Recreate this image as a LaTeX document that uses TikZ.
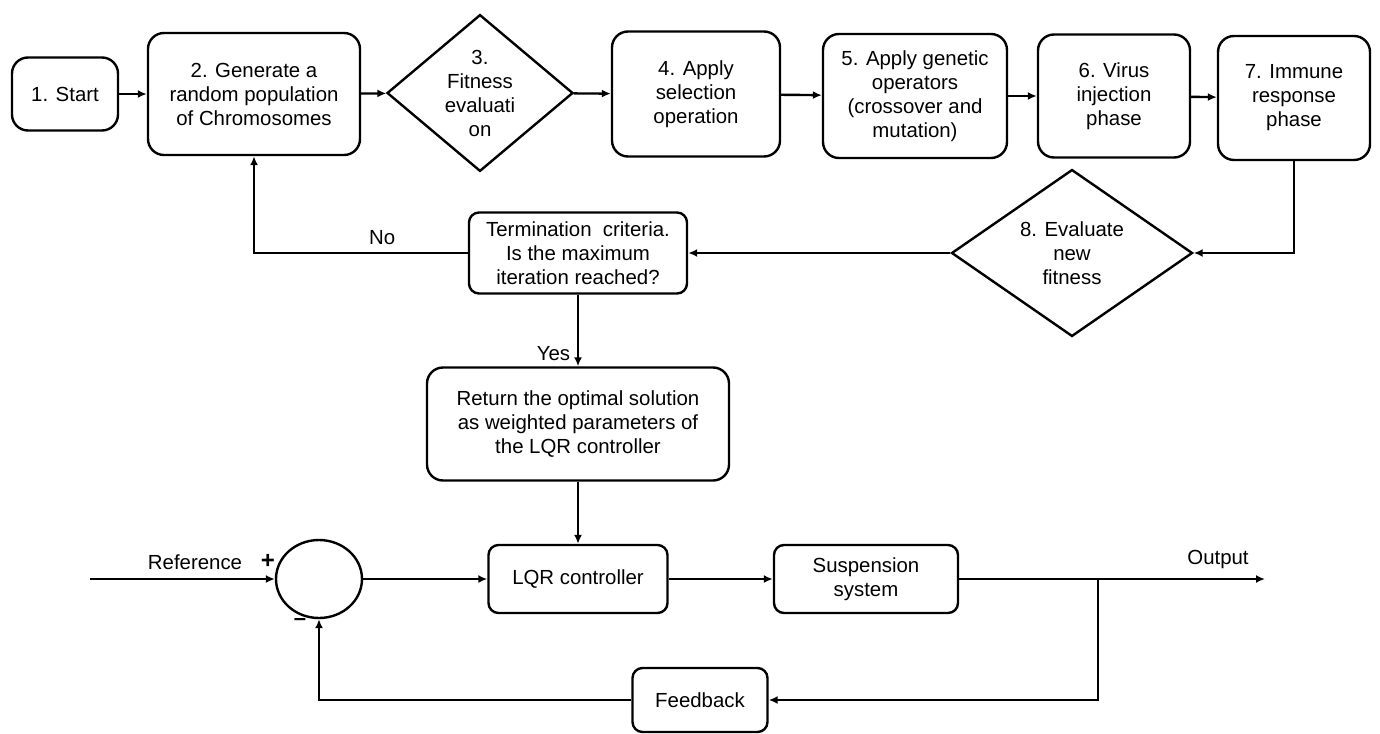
\documentclass[tikz,border=0pt]{standalone}
\usepackage{fontspec}
\setmainfont{Liberation Sans}
\usepackage{tikz}
\usetikzlibrary{arrows.meta}
\usetikzlibrary{shapes.geometric}

\tikzset{
  >={Latex[length=4.5pt,width=4pt]},
  stepbox/.style={draw, rectangle, rounded corners=8pt, line width=1.2pt, align=center, inner sep=0pt},
  smallbox/.style={stepbox, rounded corners=5pt},
  decide/.style={draw, diamond, line width=1.2pt, align=center, inner sep=0pt},
  flow/.style={->, line width=1.2pt},
}

\begin{document}
\begin{tikzpicture}[x=0.5pt, y=-0.5pt, font=\fontsize{10.2}{12}\selectfont]
        \useasboundingbox (0,0) rectangle (1380,733);

        % nodes %
        \node[stepbox, minimum width=53pt, minimum height=36.5pt] (start) at (65,94) {1. Start};
        \node[stepbox, minimum width=106pt, minimum height=61pt] (gen) at (254,94) {2. Generate a\\random population\\of Chromosomes};
        \node[decide, minimum width=93pt, minimum height=77.5pt] (fit) at (480,93) {3.\\Fitness\\evaluati\\on};
        \node[stepbox, minimum width=84pt, minimum height=62.5pt] (sel) at (696,94) {4. Apply\\selection\\operation};
        \node[stepbox, minimum width=92pt, minimum height=62pt] (gene) at (915,96) {5. Apply genetic\\operators\\(crossover and\\mutation)};
        \node[stepbox, minimum width=76pt, minimum height=61.5pt] (virus) at (1114,96) {6. Virus\\injection\\phase};
        \node[stepbox, minimum width=76pt, minimum height=62pt] (immune) at (1294,98) {7. Immune\\response\\phase};
        \node[decide, minimum width=120.5pt, minimum height=77pt] (newfit) at (1072,253) {8. Evaluate\\new\\fitness};
        \node[smallbox, minimum width=109pt, minimum height=40.5pt] (term) at (578,253) {Termination\ \ criteria.\\Is the maximum\\iteration reached?};
        \node[stepbox, minimum width=151pt, minimum height=56.5pt] (ret) at (578,424) {Return the optimal solution\\as weighted parameters of\\the LQR controller};

        \node[draw, ellipse, line width=1.2pt, minimum width=43pt, minimum height=39pt] (sum) at (319,579) {};
        \node[smallbox, minimum width=89.5pt, minimum height=34pt] (lqr) at (578,579) {LQR controller};
        \node[smallbox, minimum width=92pt, minimum height=34pt] (susp) at (866,579) {Suspension\\system};
        \node[smallbox, minimum width=67.5pt, minimum height=32pt] (fb) at (700,700) {Feedback};

        \coordinate (in) at (90,579);
        \coordinate (out) at (1265,579);
        \coordinate (branch) at (1098,579);
        \node (ref) at (195,562) {Reference};
        \node[font=\fontsize{12}{12}\selectfont\bfseries] (plus) at (268,561) {+};
        \node[font=\fontsize{11}{12}\selectfont\bfseries] (minus) at (300,622) {--};
        \node (outlbl) at (1218,559) {Output};

        % edges %
        \draw[flow] (start) -- (gen);
        \draw[flow] (gen) -- (fit);
        \draw[flow] (fit) -- (sel);
        \draw[flow] (sel) -- (gene);
        \draw[flow] (gene) -- (virus);
        \draw[flow] (virus) -- (immune);
        \draw[flow] (immune.south) |- (newfit.east);
        \draw[flow] (newfit.west) -- (term.east);
        \draw[flow] (term.west) -| node[pos=0.2, above] {No} (gen.south);
        \draw[flow] (term.south) -- node[pos=0.82, left] {Yes} (ret.north);
        \draw[flow] (ret.south) -- (lqr.north);

        \draw[flow] (in) -- (sum.west);
        \draw[flow] (sum.east) -- (lqr.west);
        \draw[flow] (lqr.east) -- (susp.west);
        \draw[flow] (susp.east) -- (out);
        \draw[flow] (branch) |- (fb.east);
        \draw[flow] (fb.west) -| (sum.south);
      \end{tikzpicture}
\end{document}
